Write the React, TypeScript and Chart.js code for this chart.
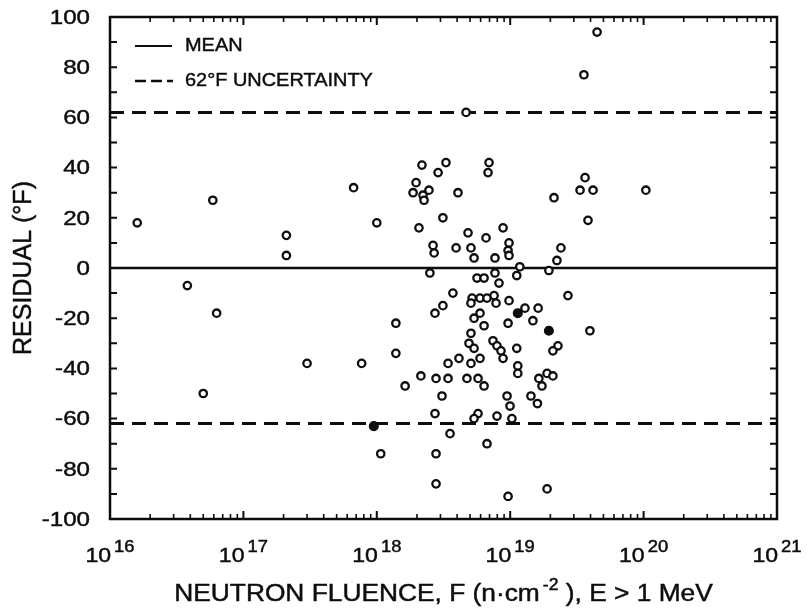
import React, { useEffect, useRef } from "react";
import { Chart, registerables } from "chart.js";

Chart.register(...registerables);

// Open-circle data points: neutron fluence (n/cm^2) and residual (°F)
const fluenceOpen = [
  1.6e16, 5.9e16, 3.8e16, 6.3e16, 2.1e17, 2.1e17, 6.7e17, 1.0e18, 5.0e16, 3.0e17,
  7.7e17, 1.39e18, 1.39e18, 1.63e18, 1.07e18, 4.48e19, 3.57e19, 4.67e18, 1.04e20, 3.64e19,
  3.34e19, 4.18e19, 3.83e19, 2.13e19, 2.4e19, 2.24e19, 1.95e19, 2.71e19, 3.96e19, 2.18e18,
  3.3e18, 2.88e18, 1.97e18, 1.87e18, 2.46e18, 2.22e18, 2.26e18, 4.06e18, 2.07e18, 3.13e18,
  4.83e18, 2.64e18, 2.69e18, 3.93e18, 6.94e18, 6.82e18, 8.84e18, 6.59e18, 9.8e18, 5.08e18,
  5.36e18, 9.64e18, 9.8e18, 7.69e18, 1.18e19, 2.5e18, 3.72e18, 3.13e18, 2.73e18, 3.42e18,
  4.13e18, 2.14e18, 2.78e18, 3.42e18, 3.08e18, 5.64e18, 6.37e18, 7.69e18, 8.24e18, 1.12e19,
  5.18e18, 5.94e18, 6.7e18, 7.57e18, 5.08e18, 7.83e18, 9.8e18, 1.29e19, 1.62e19, 1.48e19,
  5.94e18, 5.36e18, 6.37e18, 9.64e18, 5.08e18, 4.91e18, 5.36e18, 5.94e18, 5.08e18, 7.43e18,
  7.96e18, 8.53e18, 8.84e18, 1.12e19, 2.28e19, 2.09e19, 1.14e19, 1.14e19, 4.74e18, 5.74e18,
  6.37e18, 1.64e19, 1.89e19, 2.09e19, 1.73e19, 9.47e18, 1.43e19, 1.6e19, 9.97e18, 2.73e18,
  3.54e18, 2.78e18, 2.78e18, 5.74e18, 5.36e18, 7.96e18, 1.03e19, 6.7e18, 9.64e18, 1.89e19,
];
const residualOpen = [
  18, 27, -7, -18, 13, 5, 32, 18, -50, -38,
  -38, -22, -34, -47, -74, 94, 77, 62, 31, 36,
  31, 31, 19, 28, 8, 3, -1, -11, -25, 41,
  42, 38, 34, 30, 31, 29, 27, 30, 16, 20,
  14, 9, 6, 8, 42, 38, 16, 12, 10, 8,
  4, 7, 5, 4, 0.5, -2, -10, -15, -18, -38,
  -36, -43, -44, -44, -51, -4, -4, -2, -6, -3,
  -12, -12, -12, -11, -14, -14, -13, -16, -16, -21,
  -18, -20, -23, -22, -26, -30, -32, -36, -38, -29,
  -31, -33, -36, -32, -31, -33, -39, -42, -44, -44,
  -47, -44, -42, -43, -47, -51, -51, -54, -55, -58,
  -66, -74, -86, -58, -60, -59, -60, -70, -91, -88,
];

// Filled data points
const fluenceFilled = [9.5e17, 1.14e19, 1.95e19];
const residualFilled = [-63, -18, -25];

// Reference lines
const MEAN = 0;
const UNCERTAINTY = 62;
const xRange = [1e16, 1e21];

// Axis ticks
const yTickValues = [100, 80, 60, 40, 20, 0, -20, -40, -60, -80, -100];
const yMinorValues = [90, 70, 50, 30, 10, -10, -30, -50, -70, -90];
const xDecadeExponents = [16, 17, 18, 19, 20, 21];

const legendLabels = ["MEAN", "62°F UNCERTAINTY"];
const yTitle = "RESIDUAL (°F)";
const xTitleParts = ["NEUTRON FLUENCE, F (n·cm", "-2", " ), E > 1 MeV"];

const FONT = '"Liberation Sans", Arial, Helvetica, sans-serif';
const INK = "#0d0d0d";

function stretchText(
  ctx: CanvasRenderingContext2D,
  text: string,
  x: number,
  y: number,
  size: number,
  sx: number,
  align: "left" | "center" | "right"
) {
  ctx.font = `${size}px ${FONT}`;
  const w = ctx.measureText(text).width * sx;
  let left = x;
  if (align === "center") left = x - w / 2;
  else if (align === "right") left = x - w;
  ctx.save();
  ctx.translate(left, y);
  ctx.scale(sx, 1);
  ctx.textAlign = "left";
  ctx.lineWidth = 0.45;
  ctx.fillText(text, 0, 0);
  ctx.strokeText(text, 0, 0);
  ctx.restore();
  return w;
}

const framePlugin = {
  id: "frame",
  afterDraw(chart: any) {
    const ctx: CanvasRenderingContext2D = chart.ctx;
    const { left, right, top, bottom } = chart.chartArea;
    const xs = chart.scales.x;
    const ys = chart.scales.y;
    ctx.save();
    ctx.strokeStyle = INK;
    ctx.fillStyle = INK;

    // frame
    ctx.lineWidth = 2.5;
    ctx.strokeRect(left, top, right - left, bottom - top);

    // y ticks (left and right, inward)
    ctx.lineWidth = 2;
    [...yTickValues, ...yMinorValues].forEach((v) => {
      const py = ys.getPixelForValue(v);
      ctx.beginPath();
      ctx.moveTo(left, py);
      ctx.lineTo(left + 7, py);
      ctx.moveTo(right, py);
      ctx.lineTo(right - 7, py);
      ctx.stroke();
    });

    // x ticks (bottom and top, inward), log minor ticks
    xDecadeExponents.forEach((e) => {
      for (let m = 1; m <= 9; m++) {
        const val = m * Math.pow(10, e);
        if (val > xRange[1] * 1.0001) continue;
        const px = xs.getPixelForValue(val);
        const len = m === 1 ? 8 : 5;
        ctx.lineWidth = m === 1 ? 2 : 1.6;
        ctx.beginPath();
        ctx.moveTo(px, bottom);
        ctx.lineTo(px, bottom - len);
        ctx.moveTo(px, top);
        ctx.lineTo(px, top + len);
        ctx.stroke();
      }
    });

    // y tick labels
    ctx.textBaseline = "middle";
    yTickValues.forEach((v) => {
      const py = ys.getPixelForValue(v);
      stretchText(ctx, String(v), left - 20, py + 1, 21, 1.15, "right");
    });

    // x tick labels 10^n
    ctx.textBaseline = "alphabetic";
    xDecadeExponents.forEach((e) => {
      const px = xs.getPixelForValue(Math.pow(10, e));
      ctx.font = `21px ${FONT}`;
      const wBase = ctx.measureText("10").width * 1.1;
      ctx.font = `16px ${FONT}`;
      const wSup = ctx.measureText(String(e)).width * 1.15;
      const total = wBase + 3 + wSup;
      const x0 = px - total / 2;
      stretchText(ctx, "10", x0, 562, 21, 1.1, "left");
      stretchText(ctx, String(e), x0 + wBase + 3, 552, 16, 1.15, "left");
    });

    // x title with superscript
    {
      const size = 23.5;
      const sx = 1.12;
      ctx.font = `${size}px ${FONT}`;
      const w1 = ctx.measureText(xTitleParts[0]).width * sx;
      ctx.font = `16px ${FONT}`;
      const w2 = ctx.measureText(xTitleParts[1]).width * 1.1;
      ctx.font = `${size}px ${FONT}`;
      const w3 = ctx.measureText(xTitleParts[2]).width * sx;
      const total = w1 + w2 + 3 + w3;
      const cx = (left + right) / 2;
      const x0 = cx - total / 2;
      stretchText(ctx, xTitleParts[0], x0, 601, size, sx, "left");
      stretchText(ctx, xTitleParts[1], x0 + w1 + 3, 590, 16, 1.1, "left");
      stretchText(ctx, xTitleParts[2], x0 + w1 + 3 + w2, 601, size, sx, "left");
    }

    // y title rotated
    ctx.save();
    ctx.translate(24, (top + bottom) / 2);
    ctx.rotate(-Math.PI / 2);
    ctx.textBaseline = "middle";
    stretchText(ctx, yTitle, 0, 0, 25, 1.0, "center");
    ctx.restore();

    // legend
    const lx0 = left + 25;
    const lx1 = left + 62;
    const ly1 = top + 29;
    const ly2 = top + 64;
    ctx.lineWidth = 2.2;
    ctx.setLineDash([]);
    ctx.beginPath();
    ctx.moveTo(lx0, ly1);
    ctx.lineTo(lx1, ly1);
    ctx.stroke();
    ctx.lineWidth = 2.6;
    ctx.setLineDash([11, 5]);
    ctx.beginPath();
    ctx.moveTo(lx0, ly2);
    ctx.lineTo(lx1 + 1, ly2);
    ctx.stroke();
    ctx.setLineDash([]);
    ctx.textBaseline = "middle";
    stretchText(ctx, legendLabels[0], left + 75, ly1, 19, 1.05, "left");
    stretchText(ctx, legendLabels[1], left + 75, ly2, 19, 1.05, "left");

    ctx.restore();
  },
};

export default function App() {
  const ref = useRef<HTMLCanvasElement | null>(null);

  useEffect(() => {
    if (!ref.current) return;
    const open = fluenceOpen.map((f, i) => ({ x: f, y: residualOpen[i] }));
    const filled = fluenceFilled.map((f, i) => ({ x: f, y: residualFilled[i] }));
    const hline = (v: number) => [
      { x: xRange[0], y: v },
      { x: xRange[1], y: v },
    ];
    const chart = new Chart(ref.current, {
      type: "scatter",
      data: {
        datasets: [
          {
            label: "open",
            data: open,
            pointStyle: "circle",
            pointRadius: 3.7,
            pointBorderWidth: 2.3,
            borderColor: INK,
            backgroundColor: "#ffffff",
            order: 0,
          } as any,
          {
            label: "filled",
            data: filled,
            pointStyle: "circle",
            pointRadius: 4.3,
            pointBorderWidth: 1.5,
            borderColor: INK,
            backgroundColor: INK,
            order: 0,
          } as any,
          {
            type: "line",
            label: "MEAN",
            data: hline(MEAN),
            borderColor: INK,
            borderWidth: 2.5,
            pointRadius: 0,
            order: 1,
          } as any,
          {
            type: "line",
            label: "62°F UNCERTAINTY",
            data: hline(UNCERTAINTY),
            borderColor: INK,
            borderWidth: 3,
            borderDash: [14, 8],
            pointRadius: 0,
            order: 1,
          } as any,
          {
            type: "line",
            label: "-62",
            data: hline(-UNCERTAINTY),
            borderColor: INK,
            borderWidth: 3,
            borderDash: [14, 8],
            pointRadius: 0,
            order: 1,
          } as any,
        ],
      },
      options: {
        responsive: false,
        animation: false,
        devicePixelRatio: 1,
        layout: { padding: { left: 110, right: 30, top: 17, bottom: 91 } },
        scales: {
          x: { type: "logarithmic", min: xRange[0], max: xRange[1], display: false },
          y: { type: "linear", min: -100, max: 100, display: false },
        },
        plugins: { legend: { display: false }, tooltip: { enabled: false } },
        events: [],
      },
      plugins: [framePlugin],
    } as any);
    return () => chart.destroy();
  }, []);

  return (
    <div style={{ position: "fixed", left: 0, top: 0, width: 807, height: 610, background: "#fff" }}>
      <canvas ref={ref} width={807} height={610} style={{ width: 807, height: 610, display: "block" }} />
    </div>
  );
}
